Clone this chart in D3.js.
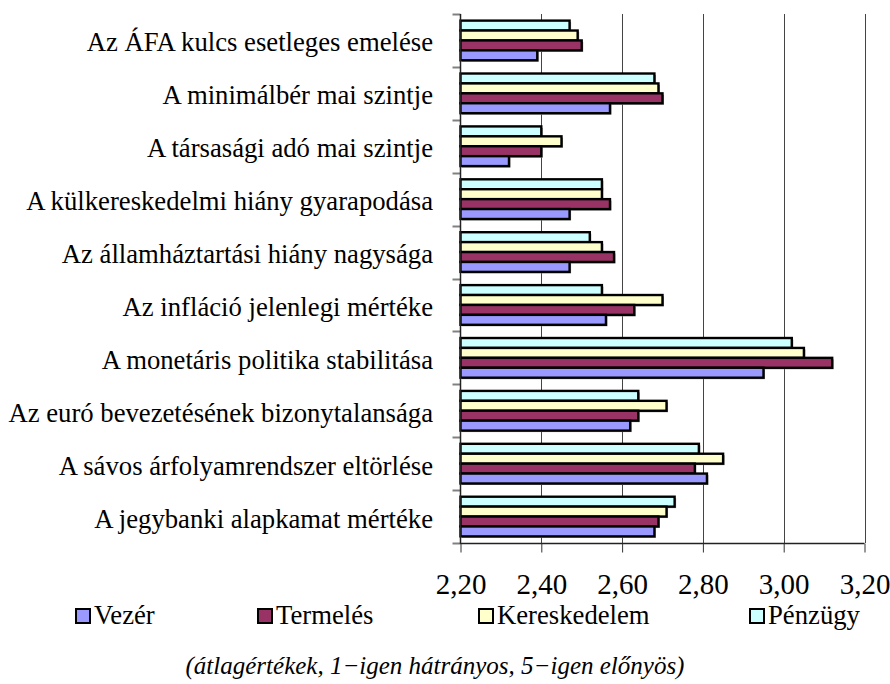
<!DOCTYPE html>
<html>
<head>
<meta charset="utf-8">
<script src="https://cdn.jsdelivr.net/npm/d3@7"></script>
<style>
  body { margin: 0; background: #fff; }
  svg { display: block; }
</style>
</head>
<body>
<div id="chart"></div>
<script>
// Category labels, top to bottom as shown
var categories = [
    "Az ÁFA kulcs esetleges emelése",
    "A minimálbér mai szintje",
    "A társasági adó mai szintje",
    "A külkereskedelmi hiány gyarapodása",
    "Az államháztartási hiány nagysága",
    "Az infláció jelenlegi mértéke",
    "A monetáris politika stabilitása",
    "Az euró bevezetésének bizonytalansága",
    "A sávos árfolyamrendszer eltörlése",
    "A jegybanki alapkamat mértéke"
];

// Series values (same order as categories)
var seriesNames = ["Vezér", "Termelés", "Kereskedelem", "Pénzügy"];
var vezer        = [2.39, 2.57, 2.32, 2.47, 2.47, 2.56, 2.95, 2.62, 2.81, 2.68];
var termeles     = [2.50, 2.70, 2.40, 2.57, 2.58, 2.63, 3.12, 2.64, 2.78, 2.69];
var kereskedelem = [2.49, 2.69, 2.45, 2.55, 2.55, 2.70, 3.05, 2.71, 2.85, 2.71];
var penzugy      = [2.47, 2.68, 2.40, 2.55, 2.52, 2.55, 3.02, 2.64, 2.79, 2.73];
var seriesColors = ["#9999ff", "#993366", "#ffffcc", "#ccffff"];

var tickValues = [2.2, 2.4, 2.6, 2.8, 3.0, 3.2];
var caption = "(átlagértékek, 1\u2212igen hátrányos, 5\u2212igen előnyös)";

var FONT = "Liberation Serif";
var width = 890, height = 684;
var plot = { left: 460.5, right: 864.5, top: 14, bottom: 543 };

var svg = d3.select("#chart").append("svg")
    .attr("width", width)
    .attr("height", height);

var x = d3.scaleLinear().domain([2.2, 3.2]).range([plot.left, plot.right]);
var y = d3.scaleBand().domain(categories).range([plot.top, plot.bottom]).paddingInner(0.25).paddingOuter(0.125);
var yBand = d3.scaleBand().domain(categories).range([plot.top, plot.bottom]);
// Excel draws the last series on top
var drawOrder = [3, 2, 1, 0];
var ySub = d3.scaleBand().domain(drawOrder).range([0, y.bandwidth()]);

var allSeries = [vezer, termeles, kereskedelem, penzugy];

// vertical gridlines
svg.append("g").selectAll("line")
    .data(tickValues.slice(1))
    .enter().append("line")
    .attr("x1", function(d) { return Math.round(x(d)) + 0.5; })
    .attr("x2", function(d) { return Math.round(x(d)) + 0.5; })
    .attr("y1", plot.top)
    .attr("y2", plot.bottom)
    .attr("stroke", "#444")
    .attr("stroke-width", 1);

// bars
var bars = [];
categories.forEach(function(cat, ci) {
    drawOrder.forEach(function(si) {
        bars.push({ cat: cat, series: si, value: allSeries[si][ci] });
    });
});

var barG = svg.append("g");
// drop shadow
barG.selectAll(".shadow")
    .data(bars)
    .enter().append("rect")
    .attr("class", "shadow")
    .attr("x", x(2.2) + 1.5)
    .attr("y", function(d) { return y(d.cat) + ySub(d.series) + 1.5; })
    .attr("width", function(d) { return x(d.value) - x(2.2); })
    .attr("height", ySub.bandwidth())
    .attr("fill", "#909090");

barG.selectAll(".bar")
    .data(bars)
    .enter().append("rect")
    .attr("class", "bar")
    .attr("x", x(2.2))
    .attr("y", function(d) { return y(d.cat) + ySub(d.series); })
    .attr("width", function(d) { return x(d.value) - x(2.2); })
    .attr("height", ySub.bandwidth())
    .attr("fill", function(d) { return seriesColors[d.series]; })
    .attr("stroke", "#000")
    .attr("stroke-width", 2.4);

// left axis with ticks at category boundaries
var boundaries = categories.map(function(c) { return yBand(c); }).concat([plot.bottom]);
svg.append("g").selectAll("line")
    .data(boundaries)
    .enter().append("line")
    .attr("x1", plot.left - 8)
    .attr("x2", plot.left)
    .attr("y1", function(d) { return Math.round(d) + 0.5; })
    .attr("y2", function(d) { return Math.round(d) + 0.5; })
    .attr("stroke", "#808080")
    .attr("stroke-width", 2);
svg.append("line")
    .attr("x1", plot.left).attr("x2", plot.left)
    .attr("y1", plot.top).attr("y2", plot.bottom + 1)
    .attr("stroke", "#222").attr("stroke-width", 1.5);

// bottom axis
var xAxis = d3.axisBottom(x)
    .tickValues(tickValues)
    .tickSize(9)
    .tickFormat(function(d) { return d3.format(".2f")(d).replace(".", ","); });
var xg = svg.append("g")
    .attr("transform", "translate(0," + (plot.bottom + 0.5) + ")")
    .call(xAxis);
xg.select(".domain").attr("stroke", "#222").attr("stroke-width", 1.5)
    .attr("d", "M" + plot.left + ",0H" + plot.right);
xg.selectAll(".tick line").attr("stroke", "#333");
xg.selectAll(".tick text")
    .attr("y", 50)
    .attr("dy", 0)
    .attr("fill", "#000")
    .style("font-family", FONT)
    .style("font-size", "29px");

// category labels
svg.append("g").selectAll("text")
    .data(categories)
    .enter().append("text")
    .attr("x", 433)
    .attr("y", function(d) { return yBand(d) + yBand.bandwidth() / 2 + 11; })
    .attr("text-anchor", "end")
    .style("font-family", FONT)
    .style("font-size", "26.7px")
    .text(function(d) { return d; });

// legend
var legendX = [76, 258, 479, 750];
var legend = svg.append("g").selectAll("g")
    .data(seriesNames)
    .enter().append("g")
    .attr("transform", function(d, i) { return "translate(" + legendX[i] + ",609)"; });
legend.append("rect")
    .attr("width", 14)
    .attr("height", 14)
    .attr("fill", function(d, i) { return seriesColors[i]; })
    .attr("stroke", "#000")
    .attr("stroke-width", 2);
legend.append("text")
    .attr("x", 18)
    .attr("y", 15)
    .style("font-family", FONT)
    .style("font-size", "26.7px")
    .text(function(d) { return d; });

// caption
svg.append("text")
    .attr("x", 435)
    .attr("y", 674)
    .attr("text-anchor", "middle")
    .style("font-family", FONT)
    .style("font-style", "italic")
    .style("font-size", "25px")
    .text(caption);
</script>
</body>
</html>
